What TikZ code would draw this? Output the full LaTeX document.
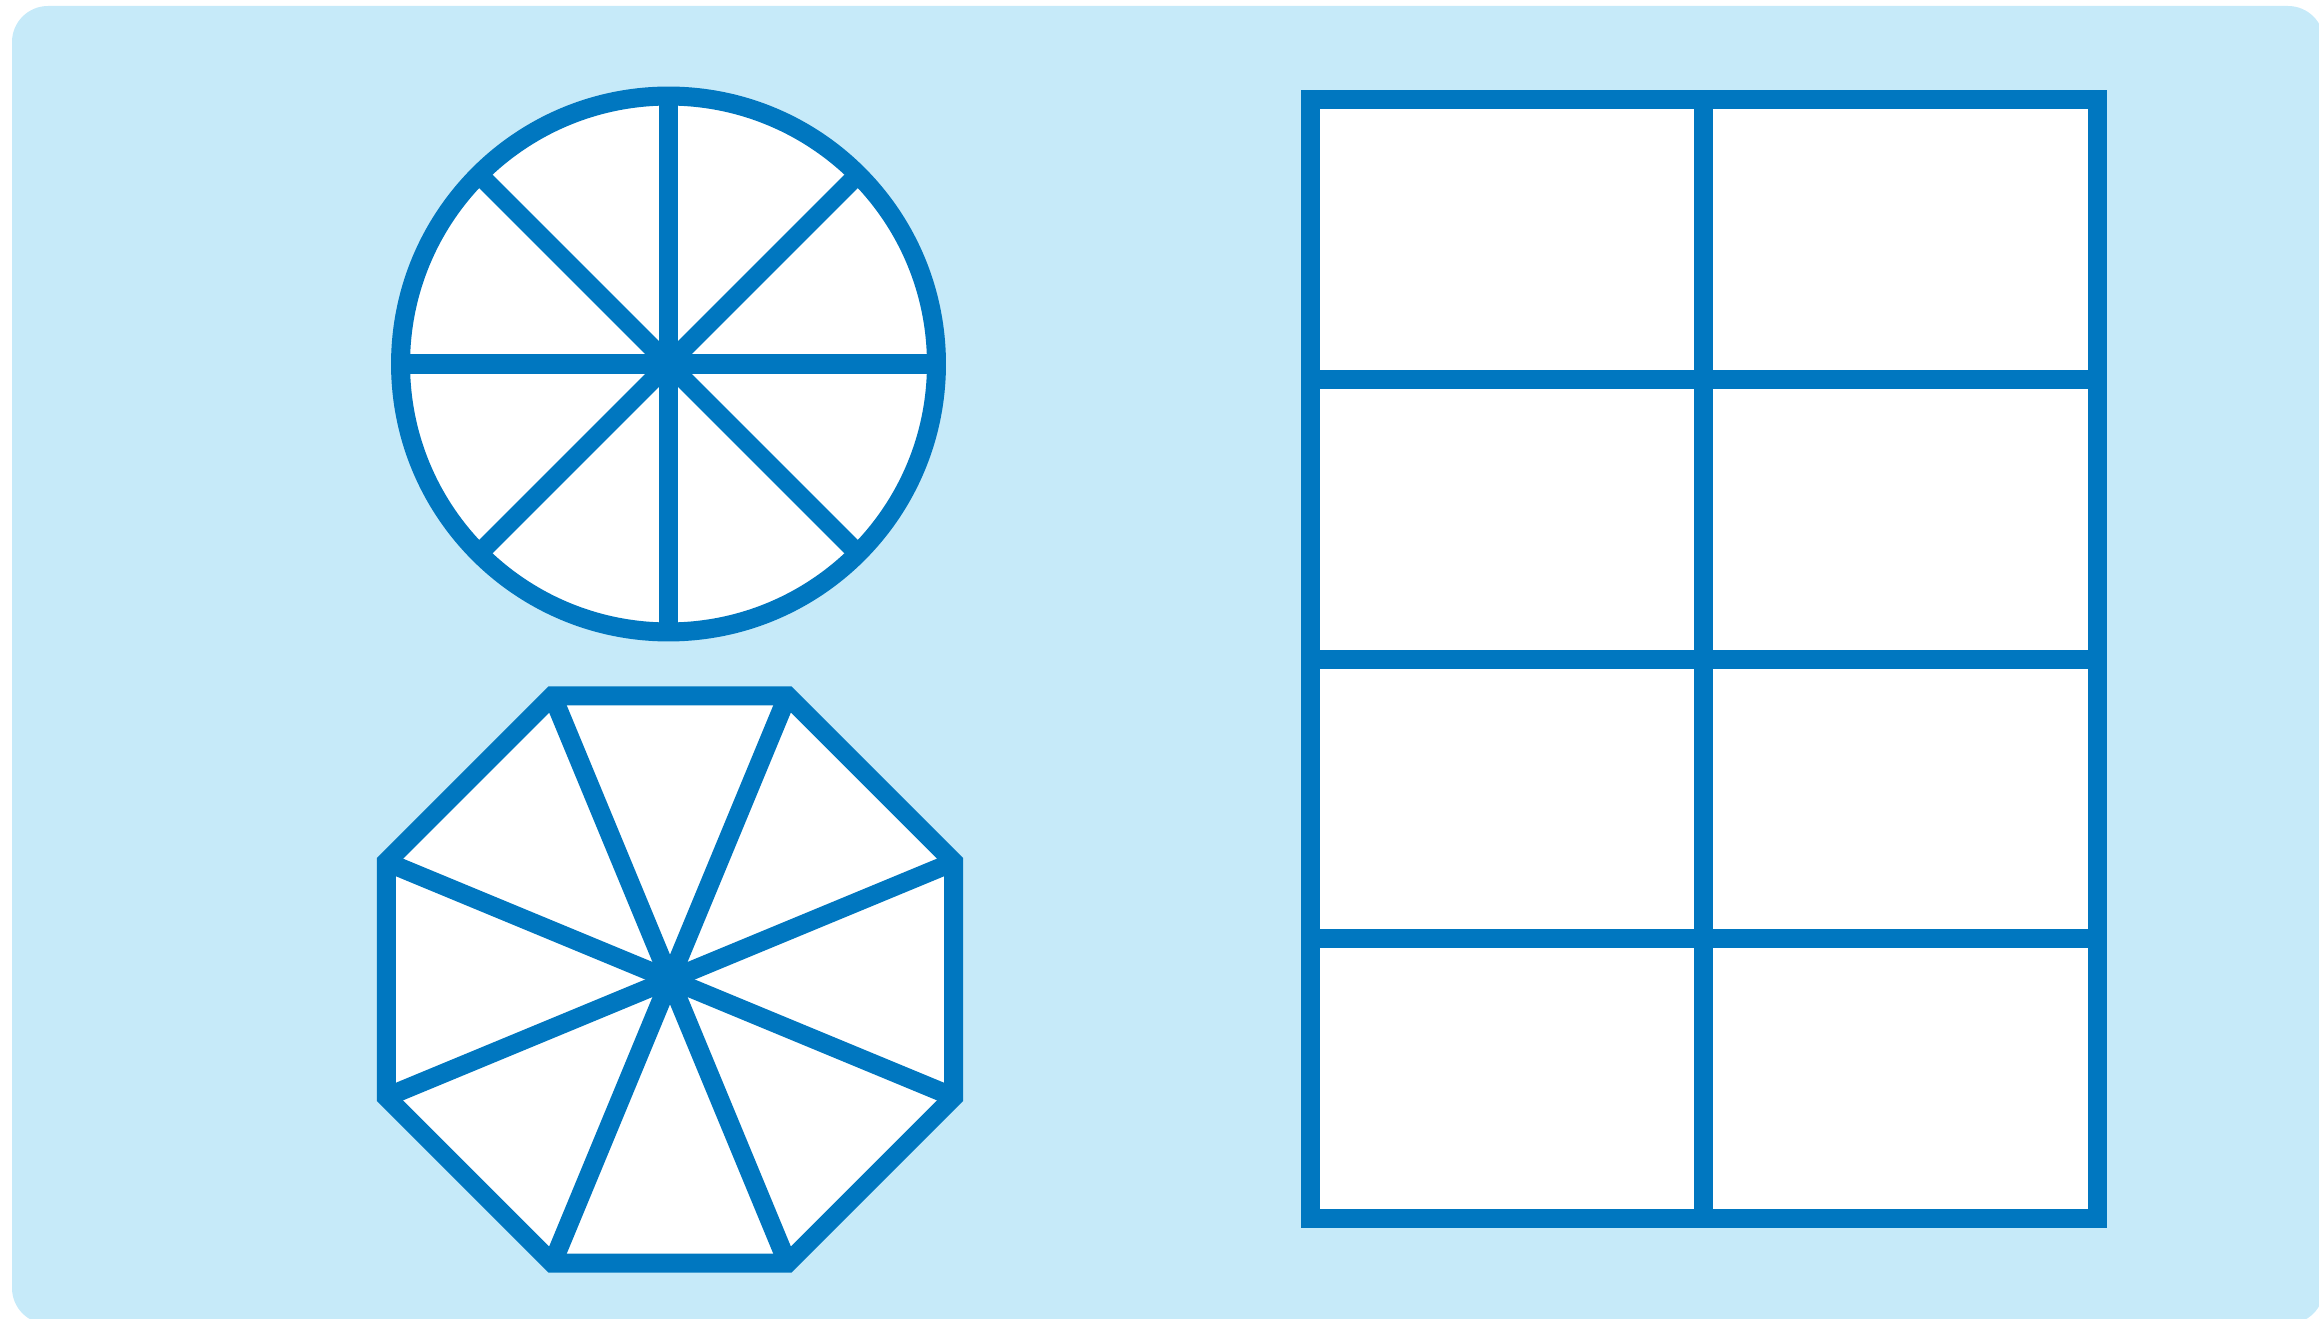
\documentclass[tikz,border=0pt]{standalone}
\usepackage{tikz}
\usetikzlibrary{calc}
\definecolor{bgcolor}{RGB}{198,234,249}
\definecolor{linecolor}{RGB}{0,119,192}

\begin{document}
\begin{tikzpicture}[
    x=0.01cm, y=-0.01cm,
    outline/.style={draw=linecolor, line width=1.9mm, fill=white, line join=miter},
    spoke/.style={draw=linecolor, line width=1.9mm}
]
\useasboundingbox (0,0) rectangle (2319,1319);
\fill[bgcolor, rounded corners=0.36cm] (12,6) rectangle (2324,1324);

% wheel
\coordinate (wheel) at (668.5,364);
\draw[outline] (wheel) circle[radius=2.678cm];
\foreach \a in {0,45,90,135}
    \draw[spoke] ($(wheel)+(\a:2.678cm)$) -- ($(wheel)+(\a+180:2.678cm)$);

% octagon
\coordinate (oct) at (670,979.5);
\draw[outline] ($(oct)+(22.5:3.069cm)$)
    \foreach \k in {1,...,7} { -- ($(oct)+(22.5+45*\k:3.069cm)$) } -- cycle;
\foreach \a in {22.5,67.5,112.5,157.5}
    \draw[spoke] ($(oct)+(\a:3.069cm)$) -- ($(oct)+(\a+180:3.069cm)$);

% table
\coordinate (tl) at (1310.5,99.5);
\coordinate (br) at (2097,1218.8);
\draw[outline] (tl) rectangle (br);
\draw[spoke] ($(tl)!0.5!(br|-tl)$) -- ($(tl|-br)!0.5!(br)$);
\foreach \f in {0.25,0.5,0.75}
    \draw[spoke] ($(tl)!\f!(tl|-br)$) -- ($(br|-tl)!\f!(br)$);
\end{tikzpicture}
\end{document}
